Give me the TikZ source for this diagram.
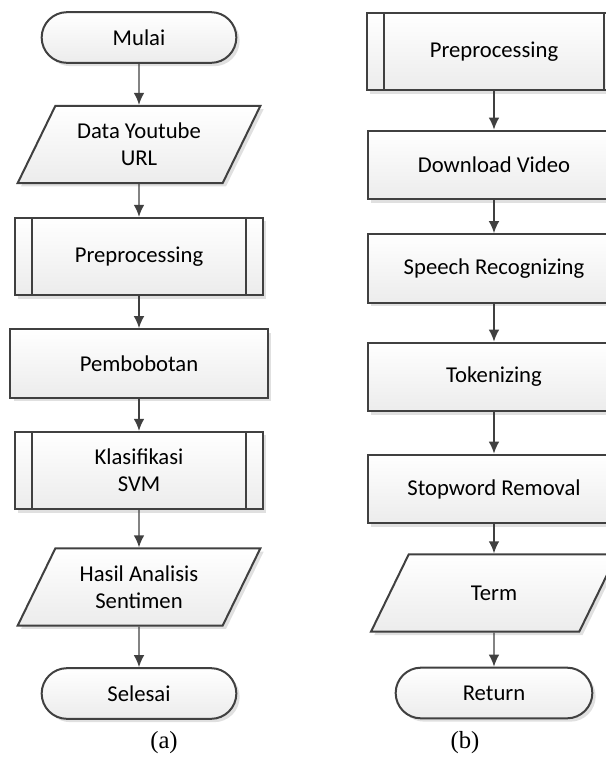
\documentclass[tikz,border=0pt]{standalone}
\usepackage{fontspec}
\setmainfont{Carlito}
\newfontfamily\capfont{Liberation Serif}
\usepackage{tikz}
\usetikzlibrary{arrows.meta,shapes.geometric,shapes.misc,shadows}
\definecolor{linegray}{HTML}{404040}

\begin{document}
\begin{tikzpicture}[x=0.75pt,y=-0.75pt,>={Latex[length=9pt,width=8pt]},
  box/.style={draw=linegray,line width=1.5pt,top color=white,bottom color=gray!15,
    drop shadow={shadow xshift=2.5pt,shadow yshift=-2.5pt,fill=black!12,opacity=1},
    font=\fontsize{17}{20}\selectfont,align=center,inner sep=2pt},
  startstop/.style={box,rounded rectangle,minimum width=150pt,minimum height=38pt},
  inout/.style={box,trapezium,trapezium left angle=64,trapezium right angle=116,
    trapezium stretches body,minimum width=182pt,minimum height=1pt,inner ysep=#1},
  inout/.default=13pt,
  process/.style={box,rectangle,minimum width=193pt,minimum height=51.5pt},
  subproc/.style={process,minimum height=58pt,path picture={
    \draw[linegray,line width=1.5pt]
      ([xshift=13pt]path picture bounding box.north west) -- ([xshift=13pt]path picture bounding box.south west)
      ([xshift=-13pt]path picture bounding box.north east) -- ([xshift=-13pt]path picture bounding box.south east);}},
  flow/.style={->,draw=linegray,line width=1.1pt},
  caption/.style={font=\capfont\fontsize{18.5}{20}\selectfont}]

  \useasboundingbox (0,0) rectangle (606,758);
  \clip (0,0) rectangle (606,758);

  \node[startstop] (mulai) at (139,37.5) {Mulai};
  \node[inout] (data) at (139,144.5) {Data Youtube\\URL};
  \node[subproc,minimum width=186pt] (prepa) at (139,256.5) {Preprocessing};
  \node[process] (bobot) at (139,363.5) {Pembobotan};
  \node[subproc,minimum width=186pt] (svm) at (139,470.5) {Klasifikasi\\SVM};
  \node[inout] (hasil) at (139,587) {Hasil Analisis\\Sentimen};
  \node[startstop] (selesai) at (139,693.5) {Selesai};
  \node[caption] (capa) at (164,743) {(a)};

  \node[subproc,minimum width=190.5pt] (prepb) at (494,51.5) {Preprocessing};
  \node[process,minimum width=189pt] (unduh) at (494,165) {Download Video};
  \node[process,minimum width=189pt] (speech) at (494,268.5) {Speech Recognizing};
  \node[process,minimum width=189pt] (token) at (494,377) {Tokenizing};
  \node[process,minimum width=189pt] (stopword) at (494,489) {Stopword Removal};
  \node[inout=23.5pt,minimum width=184.5pt] (termout) at (494,593) {Term};
  \node[startstop,minimum width=151.5pt] (kembali) at (494,693) {Return};
  \node[caption] (capb) at (465,743) {(b)};

  \foreach \a/\b in {mulai/data,data/prepa,prepa/bobot,bobot/svm,svm/hasil,hasil/selesai,
    prepb/unduh,unduh/speech,speech/token,token/stopword,stopword/termout,termout/kembali}
    {\draw[flow] (\a) -- (\b);}
\end{tikzpicture}
\end{document}
